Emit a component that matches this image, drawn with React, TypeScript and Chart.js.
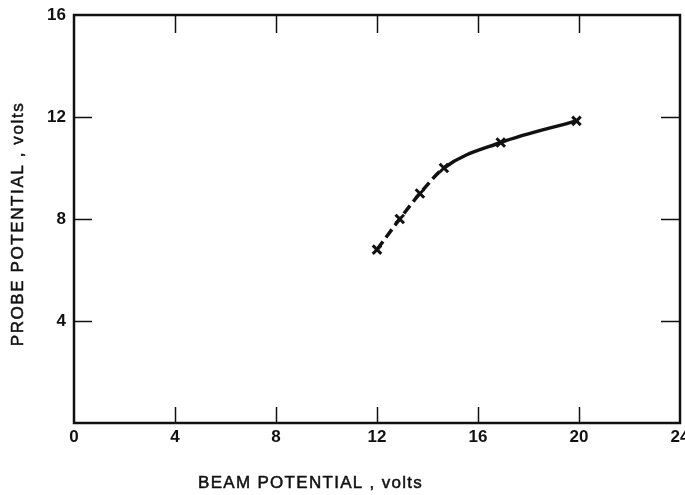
import { useEffect, useRef } from 'react';
import { Chart, registerables } from 'chart.js';

Chart.register(...registerables);

const beamPotential = [12.0, 12.9, 13.7, 14.65, 16.9, 19.9];
const probePotential = [6.8, 8.0, 9.0, 10.0, 11.0, 11.85];
const xTickValues = [0, 4, 8, 12, 16, 20, 24];
const yTickValues = [0, 4, 8, 12, 16];
const xTitle = 'BEAM POTENTIAL , volts';
const yTitle = 'PROBE POTENTIAL , volts';
const dashedSegments = 3;

const FONT_FAMILY = '"Liberation Sans", Arial, sans-serif';

const framePlugin = {
  id: 'frame',
  afterDraw(chart: any) {
    const { ctx, chartArea, scales } = chart;
    const { left, right, top, bottom } = chartArea;
    const x = scales.x;
    const y = scales.y;
    ctx.save();
    ctx.strokeStyle = '#111';
    ctx.lineWidth = 2.5;
    ctx.strokeRect(left, top, right - left, bottom - top);
    ctx.lineWidth = 1.5;
    ctx.beginPath();
    xTickValues.slice(1, -1).forEach((v) => {
      const px = Math.round(x.getPixelForValue(v)) + 0.5;
      ctx.moveTo(px, bottom);
      ctx.lineTo(px, bottom - 16);
      ctx.moveTo(px, top);
      ctx.lineTo(px, top + 18);
    });
    yTickValues.slice(1, -1).forEach((v) => {
      const py = Math.round(y.getPixelForValue(v)) + 0.5;
      ctx.moveTo(left, py);
      ctx.lineTo(left + 18, py);
      ctx.moveTo(right, py);
      ctx.lineTo(right - 19, py);
    });
    ctx.stroke();

    ctx.fillStyle = '#111';
    ctx.strokeStyle = '#111';
    ctx.lineWidth = 0.5;
    ctx.font = '17px ' + FONT_FAMILY;
    (ctx as any).letterSpacing = '1.3px';
    ctx.textBaseline = 'middle';
    ctx.textAlign = 'left';
    ctx.fillText(xTitle, 198, 483);
    ctx.strokeText(xTitle, 198, 483);
    (ctx as any).letterSpacing = '1.6px';
    ctx.translate(18, 224);
    ctx.rotate(-Math.PI / 2);
    ctx.textAlign = 'center';
    ctx.fillText(yTitle, 0, 0);
    ctx.strokeText(yTitle, 0, 0);
    ctx.restore();
  },
};

export default function App() {
  const ref = useRef<HTMLCanvasElement>(null);

  useEffect(() => {
    if (!ref.current) return;
    const points = beamPotential.map((bx, i) => ({ x: bx, y: probePotential[i] }));
    const tickFont = { family: FONT_FAMILY, size: 17, weight: 'bold' as const };
    const chart = new Chart(ref.current, {
      type: 'line',
      data: {
        datasets: [
          {
            data: points,
            borderColor: '#111',
            borderWidth: 3.5,
            cubicInterpolationMode: 'monotone',
            pointStyle: 'crossRot',
            pointRadius: 6,
            pointBorderWidth: 3,
            pointBorderColor: '#111',
            pointBackgroundColor: '#111',
            segment: {
              borderDash: (ctx: any) => (ctx.p0DataIndex < dashedSegments ? [10, 5] : []),
            },
          },
        ],
      },
      options: {
        animation: false,
        responsive: false,
        layout: { autoPadding: false, padding: { left: 0, right: 5, top: 15, bottom: 0 } },
        plugins: { legend: { display: false }, tooltip: { enabled: false }, title: { display: false } },
        scales: {
          x: {
            type: 'linear',
            min: 0,
            max: 24,
            afterFit: (s: any) => {
              s.height = 72;
              s.paddingLeft = 0;
              s.paddingRight = 0;
            },
            afterBuildTicks: (s: any) => {
              s.ticks = xTickValues.map((v) => ({ value: v }));
            },
            grid: { display: false },
            border: { display: false },
            ticks: { color: '#111', font: tickFont, padding: -4, maxRotation: 0 },
          },
          y: {
            type: 'linear',
            min: 0,
            max: 16,
            afterFit: (s: any) => {
              s.width = 74;
              s.paddingTop = 0;
              s.paddingBottom = 0;
            },
            afterBuildTicks: (s: any) => {
              s.ticks = yTickValues.map((v) => ({ value: v }));
            },
            grid: { display: false },
            border: { display: false },
            ticks: {
              color: '#111',
              font: tickFont,
              padding: 0,
              callback: (v: any) => (v === 0 ? '' : String(v)),
            },
          },
        },
      },
      plugins: [framePlugin],
    });
    return () => chart.destroy();
  }, []);

  return (
    <div style={{ position: 'fixed', left: 0, top: 0, width: 685, height: 495, background: '#fff' }}>
      <canvas ref={ref} width={685} height={495} />
    </div>
  );
}
